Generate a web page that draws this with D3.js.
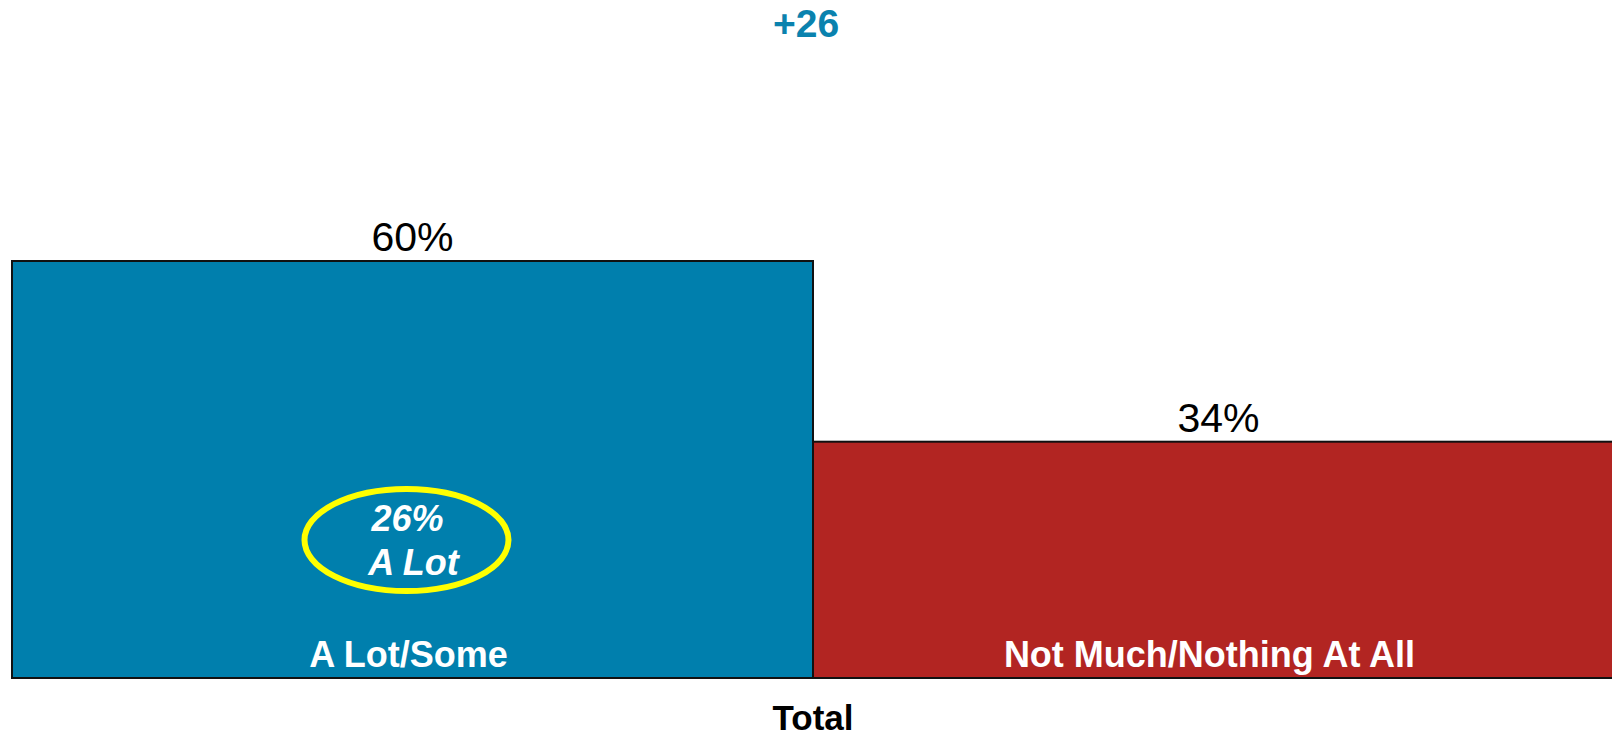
<!DOCTYPE html>
<html><head><meta charset="utf-8">
<script src="https://cdn.jsdelivr.net/npm/d3@7"></script>
<style>html,body{margin:0;padding:0;background:#fff;}svg{display:block;font-family:"Liberation Sans",Arial,sans-serif;}</style>
</head><body>
<svg id="c" width="1612" height="738"></svg>
<script>
const categories = ["A Lot/Some", "Not Much/Nothing At All"];
const values = [60, 34];
const colors = ["#007FAD", "#B22522"];
const groupLabel = "Total";
const netLabel = "+26";
const subValue = 26;
const subLabel = "A Lot";

const W = 1612, H = 738;
const svg = d3.select("#c");
const x = d3.scaleBand().domain(categories).range([12, 1614]).padding(0);
const y = d3.scaleLinear().domain([0, 100]).range([678, -17]);

svg.selectAll("rect.bar").data(categories).join("rect")
  .attr("class", "bar")
  .attr("x", d => x(d))
  .attr("y", (d, i) => y(values[i]))
  .attr("width", x.bandwidth())
  .attr("height", (d, i) => y(0) - y(values[i]))
  .attr("fill", (d, i) => colors[i])
  .attr("stroke", "#111")
  .attr("stroke-width", 2);

svg.selectAll("text.val").data(categories).join("text")
  .attr("class", "val")
  .attr("x", (d, i) => x(d) + x.bandwidth() / 2 + (i === 1 ? 5 : 0))
  .attr("y", (d, i) => y(values[i]) - 10)
  .attr("text-anchor", "middle")
  .attr("font-size", 41)
  .attr("fill", "#000")
  .text((d, i) => values[i] + "%");

svg.selectAll("text.cat").data(categories).join("text")
  .attr("class", "cat")
  .attr("x", d => x(d) + x.bandwidth() / 2 - 4)
  .attr("y", y(0) - 11)
  .attr("text-anchor", "middle")
  .attr("font-size", 36)
  .attr("font-weight", "bold")
  .attr("fill", "#fff")
  .text(d => d);

// total label
svg.append("text")
  .attr("x", (x.range()[0] + x.range()[1]) / 2)
  .attr("y", 730)
  .attr("text-anchor", "middle")
  .attr("font-size", 35)
  .attr("font-weight", "bold")
  .attr("fill", "#000")
  .text(groupLabel);

// net label
svg.append("text")
  .attr("x", (x.range()[0] + x.range()[1]) / 2 - 7)
  .attr("y", 37)
  .attr("text-anchor", "middle")
  .attr("font-size", 39)
  .attr("font-weight", "bold")
  .attr("fill", "#0A82AE")
  .text(netLabel);

// ellipse callout
const cx = x(categories[0]) + x.bandwidth() / 2 - 6;
svg.append("ellipse")
  .attr("cx", cx).attr("cy", 540)
  .attr("rx", 102).attr("ry", 51)
  .attr("fill", "none")
  .attr("stroke", "#FFFF00")
  .attr("stroke-width", 6);
svg.append("text")
  .attr("x", cx + 1).attr("y", 531)
  .attr("text-anchor", "middle")
  .attr("font-size", 36).attr("font-weight", "bold").attr("font-style", "italic")
  .attr("fill", "#fff")
  .text(subValue + "%");
svg.append("text")
  .attr("x", cx + 7).attr("y", 575)
  .attr("text-anchor", "middle")
  .attr("font-size", 36).attr("font-weight", "bold").attr("font-style", "italic")
  .attr("fill", "#fff")
  .text(subLabel);
</script>
</body></html>
